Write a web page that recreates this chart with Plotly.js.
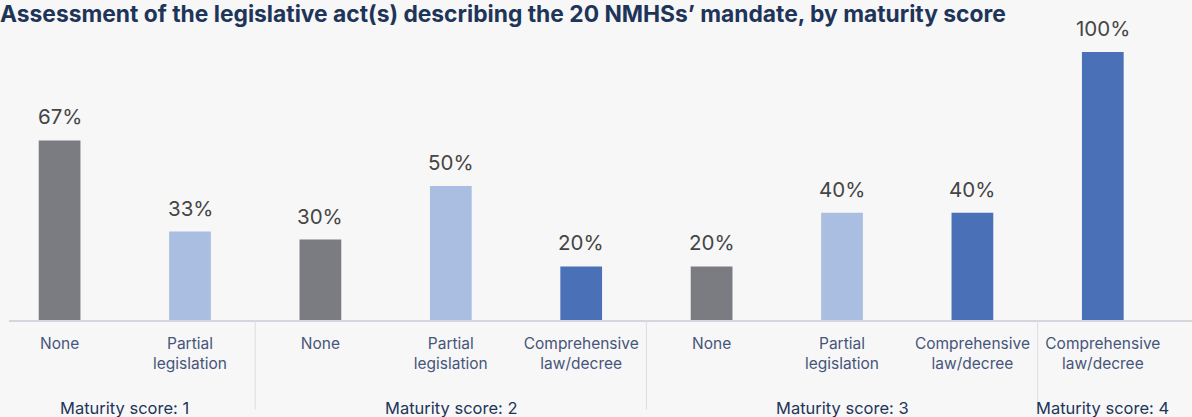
<!DOCTYPE html>
<html>
<head>
<meta charset="utf-8">
<script src="https://cdn.plot.ly/plotly-3.0.1.min.js"></script>
<style>
  html, body { margin: 0; padding: 0; background: #f7f7f7; }
  #chart { width: 1192px; height: 417px; }
</style>
</head>
<body>
<div id="chart"></div>
<script>
// ---- Data ----
const groups = [
  "Maturity score: 1", "Maturity score: 1",
  "Maturity score: 2", "Maturity score: 2", "Maturity score: 2",
  "Maturity score: 3", "Maturity score: 3", "Maturity score: 3",
  "Maturity score: 4"
];
const categories = [
  "None", "Partial<br>legislation",
  "None", "Partial<br>legislation", "Comprehensive<br>law/decree",
  "None", "Partial<br>legislation", "Comprehensive<br>law/decree",
  "Comprehensive<br>law/decree"
];
const values = [67, 33, 30, 50, 20, 20, 40, 40, 100];
const titleText = "Assessment of the legislative act(s) describing the 20 NMHSs’ mandate, by maturity score";

// ---- Styles ----
const FONT = "Inter, 'Noto Sans', sans-serif";
const colorByCategory = {
  "None": "#7b7c82",
  "Partial<br>legislation": "#a9bee0",
  "Comprehensive<br>law/decree": "#4a71b7"
};
const barColors = categories.map(c => colorByCategory[c]);
const idx = categories.map((_, i) => i);

const trace = {
  type: "bar",
  x: idx,
  y: values,
  width: 0.32,
  marker: { color: barColors },
  hoverinfo: "skip"
};

// value labels above bars
const annotations = values.map((v, i) => ({
  x: i, y: v, xref: "x", yref: "y",
  text: v + "%",
  showarrow: false,
  yanchor: "bottom",
  yshift: 9,
  font: { family: FONT, size: 20.5, color: "#454545" }
}));

// group labels and dividers
const shapes = [];
const uniqueGroups = [...new Set(groups)];
uniqueGroups.forEach(g => {
  const members = idx.filter(i => groups[i] === g);
  const center = members.reduce((a, b) => a + b, 0) / members.length;
  annotations.push({
    x: center, xref: "x", y: -0.315, yref: "paper",
    text: g, showarrow: false, yanchor: "middle",
    font: { family: FONT, size: 16.5, color: "#1e3559" }
  });
});
for (let i = 1; i < groups.length; i++) {
  if (groups[i] !== groups[i - 1]) {
    shapes.push({
      type: "line", xref: "x", yref: "paper",
      x0: i - 0.5, x1: i - 0.5, y0: 0, y1: -0.32,
      line: { color: "#dedede", width: 1 }
    });
  }
}

const layout = {
  width: 1192, height: 417,
  paper_bgcolor: "#f7f7f7",
  plot_bgcolor: "#f7f7f7",
  margin: { l: 9, r: 0, t: 40, b: 97 },
  showlegend: false,
  title: {
    text: "<b>" + titleText + "</b>",
    x: 0, xref: "container", xanchor: "left",
    y: 0.966, yref: "container", yanchor: "middle",
    font: { family: FONT, size: 22.8, color: "#1e3559" }
  },
  xaxis: {
    type: "linear",
    range: [-0.388, 8.684],
    showline: true,
    linecolor: "#d3d6dd",
    linewidth: 1.5,
    ticks: "",
    tickmode: "array",
    tickvals: idx,
    ticktext: categories,
    ticklabelstandoff: 9,
    showgrid: false,
    zeroline: false,
    tickfont: { family: FONT, size: 15.5, color: "#46557a" }
  },
  yaxis: {
    visible: false,
    range: [0, 104.5],
    fixedrange: true
  },
  annotations: annotations,
  shapes: shapes
};

Plotly.newPlot("chart", [trace], layout, { displayModeBar: false, staticPlot: true });
</script>
</body>
</html>
